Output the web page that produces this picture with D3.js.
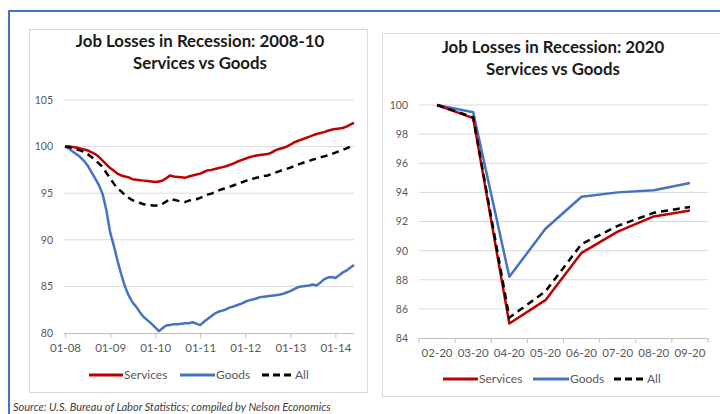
<!DOCTYPE html>
<html>
<head>
<meta charset="utf-8">
<script src="https://cdn.jsdelivr.net/npm/d3@7"></script>
<style>
  html, body { margin: 0; padding: 0; background: #fff; }
  svg { display: block; }
  text { font-family: Lato, "Open Sans", sans-serif; }
</style>
</head>
<body>
<svg id="chart" width="720" height="414"></svg>
<script>
// ---- 2008-10 recession: monthly index, Jan 2008 = 100 ----
const startMonth = new Date(2008, 0, 1);
const services0810 = [
  100.0, 100.0, 99.95, 99.9, 99.8, 99.7, 99.6, 99.4, 99.2, 98.9, 98.5, 98.1,
  97.7, 97.4, 97.1, 96.9, 96.8, 96.7, 96.5, 96.45, 96.4, 96.35, 96.3, 96.25,
  96.2, 96.25, 96.35, 96.6, 96.9, 96.8, 96.75, 96.7, 96.65, 96.8, 96.9, 97.0,
  97.1, 97.3, 97.45, 97.5, 97.6, 97.7, 97.8, 97.9, 98.05, 98.2, 98.4, 98.55,
  98.7, 98.85, 98.95, 99.05, 99.1, 99.15, 99.2, 99.35, 99.6, 99.75, 99.85, 100.0,
  100.2, 100.45, 100.6, 100.75, 100.9, 101.05, 101.2, 101.35, 101.45, 101.55, 101.7, 101.8,
  101.9, 101.95, 102.0, 102.15, 102.35, 102.55
];
const goods0810 = [
  100.0, 99.8, 99.5, 99.2, 98.9, 98.5, 98.0, 97.3, 96.6, 95.9, 94.9, 93.2,
  90.8, 89.3, 87.8, 86.3, 85.0, 84.0, 83.3, 82.8, 82.2, 81.7, 81.35, 81.0,
  80.6, 80.2, 80.5, 80.8, 80.85, 80.95, 80.95, 81.0, 81.05, 81.05, 81.15, 81.0,
  80.85, 81.2, 81.5, 81.8, 82.1, 82.3, 82.4, 82.55, 82.75, 82.85, 83.0, 83.15,
  83.35, 83.5, 83.6, 83.7, 83.85, 83.9, 83.95, 84.0, 84.05, 84.1, 84.2, 84.35,
  84.5, 84.7, 84.9, 85.0, 85.05, 85.1, 85.2, 85.1, 85.4, 85.75, 85.95, 86.0,
  85.9, 86.2, 86.5, 86.7, 87.0, 87.3
];
const all0810 = [
  100.0, 99.95, 99.85, 99.7, 99.6, 99.45, 99.2, 98.9, 98.6, 98.2, 97.8, 97.2,
  96.6, 96.0, 95.5, 95.2, 94.8, 94.5, 94.25, 94.1, 93.95, 93.8, 93.75, 93.7,
  93.65, 93.75, 93.85, 94.1, 94.4, 94.3, 94.2, 94.1, 94.05, 94.2, 94.3, 94.35,
  94.5, 94.7, 94.85, 94.95, 95.1, 95.3, 95.45, 95.55, 95.7, 95.85, 96.0, 96.15,
  96.3, 96.45, 96.55, 96.65, 96.75, 96.85, 96.9, 97.05, 97.2, 97.35, 97.5, 97.6,
  97.75, 97.9, 98.05, 98.2, 98.35, 98.45, 98.6, 98.7, 98.85, 98.95, 99.05, 99.2,
  99.35, 99.5, 99.65, 99.8, 100.0, 100.15
];
const yTicks0810 = [80, 85, 90, 95, 100, 105];

// ---- 2020 recession: monthly index, Feb 2020 = 100 ----
const months2020 = ["02-20", "03-20", "04-20", "05-20", "06-20", "07-20", "08-20", "09-20"];
const services2020 = [100.0, 99.1, 85.0, 86.6, 89.85, 91.3, 92.35, 92.75];
const goods2020 = [100.0, 99.5, 88.2, 91.5, 93.7, 94.0, 94.15, 94.65];
const all2020 = [100.0, 99.15, 85.4, 87.2, 90.45, 91.7, 92.6, 93.0];
const yTicks2020 = [84, 86, 88, 90, 92, 94, 96, 98, 100];

const seriesNames = ["Services", "Goods", "All"];

const RED = "#c00000", BLUE = "#4472c4", BLACK = "#000000";
const GRID = "#d9d9d9", LABEL = "#595959";

const svg = d3.select("#chart");

// outer frame (top and left edges)
svg.append("path")
  .attr("d", "M9,414 V11 H720")
  .attr("fill", "none")
  .attr("stroke", BLUE)
  .attr("stroke-width", 2);

// chart boxes
svg.append("rect").attr("x", 29.5).attr("y", 29.5).attr("width", 338).attr("height", 363)
  .attr("fill", "#fff").attr("stroke", GRID);
svg.append("rect").attr("x", 382.5).attr("y", 33.5).attr("width", 345).attr("height", 363)
  .attr("fill", "#fff").attr("stroke", GRID);

function title(cx, y1, size, lines) {
  const t = svg.append("text").attr("text-anchor", "middle")
    .attr("font-weight", "bold").attr("font-size", size).attr("fill", "#1a1a1a");
  lines.forEach((s, i) => t.append("tspan").attr("x", cx).attr("y", y1 + i * 22).text(s));
}

function legend(items, y) {
  items.forEach(it => {
    svg.append("line").attr("x1", it.x1).attr("x2", it.x2).attr("y1", y).attr("y2", y)
      .attr("stroke", it.color).attr("stroke-width", 3)
      .attr("stroke-dasharray", it.dash || null);
    svg.append("text").attr("x", it.x2 + 1).attr("y", y + 4)
      .attr("font-size", 12).attr("fill", LABEL).text(it.name);
  });
}

// ================= Left chart: 2008-10 =================
{
  const x = d3.scaleTime()
    .domain([startMonth, new Date(2014, 5, 1)])
    .range([65, 354]);
  const y = d3.scaleLinear().domain([80, 105]).range([333, 100]);
  const date = i => new Date(2008, i, 1);

  const g = svg.append("g");
  // gridlines
  g.selectAll("line.grid").data(yTicks0810.filter(v => v > 80)).join("line")
    .attr("x1", 64).attr("x2", 354)
    .attr("y1", d => y(d)).attr("y2", d => y(d))
    .attr("stroke", GRID).attr("stroke-width", 1);

  // y axis labels
  const yAxis = d3.axisLeft(y).tickValues(yTicks0810).tickSize(0).tickPadding(0);
  const ya = g.append("g").attr("transform", "translate(53,0)").call(yAxis);
  ya.select(".domain").remove();
  ya.selectAll("text").attr("font-size", 10.5).attr("fill", LABEL)
    .attr("font-family", "Lato, sans-serif");

  // x axis
  const janTicks = d3.range(2008, 2015).map(yr => new Date(yr, 0, 1));
  const xAxis = d3.axisBottom(x).tickValues(janTicks)
    .tickFormat(d3.timeFormat("%m-%y")).tickSize(5).tickPadding(6).tickSizeOuter(0);
  const xa = g.append("g").attr("transform", "translate(0,333)").call(xAxis);
  xa.select(".domain").attr("stroke", "#bfbfbf").attr("d", "M64,0.5H354");
  xa.selectAll(".tick line").attr("stroke", "#bfbfbf");
  xa.selectAll("text").attr("font-size", 11.5).attr("fill", LABEL)
    .attr("font-family", "Lato, sans-serif");

  const line = d3.line().x((d, i) => x(date(i))).y(d => y(d));
  g.append("path").datum(goods0810).attr("d", line)
    .attr("fill", "none").attr("stroke", BLUE).attr("stroke-width", 2.5).attr("stroke-linejoin", "round");
  g.append("path").datum(services0810).attr("d", line)
    .attr("fill", "none").attr("stroke", RED).attr("stroke-width", 2.5).attr("stroke-linejoin", "round");
  g.append("path").datum(all0810).attr("d", line)
    .attr("fill", "none").attr("stroke", BLACK).attr("stroke-width", 2.5)
    .attr("stroke-dasharray", "7,5");

  title(200, 47, 16.8, ["Job Losses in Recession: 2008-10", "Services vs Goods"]);
  legend([
    { name: seriesNames[0], color: RED, x1: 89, x2: 123 },
    { name: seriesNames[1], color: BLUE, x1: 180, x2: 215 },
    { name: seriesNames[2], color: BLACK, x1: 262, x2: 294, dash: "7,4" }
  ], 375);
}

// ================= Right chart: 2020 =================
{
  const x = d3.scaleBand().domain(months2020).range([419, 708]);
  const cx = d => x(d) + x.bandwidth() / 2;
  const y = d3.scaleLinear().domain([84, 100]).range([338, 105]);

  const g = svg.append("g");
  g.selectAll("line.grid").data(yTicks2020.filter(v => v > 84)).join("line")
    .attr("x1", 419).attr("x2", 708)
    .attr("y1", d => y(d)).attr("y2", d => y(d))
    .attr("stroke", GRID).attr("stroke-width", 1);

  const yAxis = d3.axisLeft(y).tickValues(yTicks2020).tickSize(0).tickPadding(0);
  const ya = g.append("g").attr("transform", "translate(408,0)").call(yAxis);
  ya.select(".domain").remove();
  ya.selectAll("text").attr("font-size", 10.5).attr("fill", LABEL)
    .attr("font-family", "Lato, sans-serif");

  // x axis with tick marks between categories
  const xa = g.append("g").attr("transform", "translate(0,338)");
  xa.append("line").attr("x1", 419).attr("x2", 708).attr("y1", 0.5).attr("y2", 0.5)
    .attr("stroke", "#bfbfbf");
  const bounds = months2020.map(m => x(m)).concat([x.range()[1]]);
  xa.selectAll("line.tk").data(bounds).join("line")
    .attr("x1", d => d).attr("x2", d => d).attr("y1", 0).attr("y2", 5)
    .attr("stroke", "#bfbfbf");
  xa.selectAll("text").data(months2020).join("text")
    .attr("x", d => cx(d)).attr("y", 19).attr("text-anchor", "middle")
    .attr("font-size", 11.5).attr("fill", LABEL).text(d => d);

  const line = d3.line().x((d, i) => cx(months2020[i])).y(d => y(d));
  g.append("path").datum(goods2020).attr("d", line)
    .attr("fill", "none").attr("stroke", BLUE).attr("stroke-width", 2.5).attr("stroke-linejoin", "round");
  g.append("path").datum(services2020).attr("d", line)
    .attr("fill", "none").attr("stroke", RED).attr("stroke-width", 2.5).attr("stroke-linejoin", "round");
  g.append("path").datum(all2020).attr("d", line)
    .attr("fill", "none").attr("stroke", BLACK).attr("stroke-width", 2.5)
    .attr("stroke-dasharray", "7,5");

  title(553, 53, 16.8, ["Job Losses in Recession: 2020", "Services vs Goods"]);
  legend([
    { name: seriesNames[0], color: RED, x1: 443, x2: 478 },
    { name: seriesNames[1], color: BLUE, x1: 533, x2: 569 },
    { name: seriesNames[2], color: BLACK, x1: 614, x2: 646, dash: "7,4" }
  ], 379);
}

// source note
svg.append("text").attr("x", 13).attr("y", 411)
  .attr("font-size", 11).attr("font-style", "italic").attr("fill", "#404040")
  .text("Source: U.S. Bureau of Labor Statistics; compiled by Nelson Economics");
</script>
</body>
</html>
